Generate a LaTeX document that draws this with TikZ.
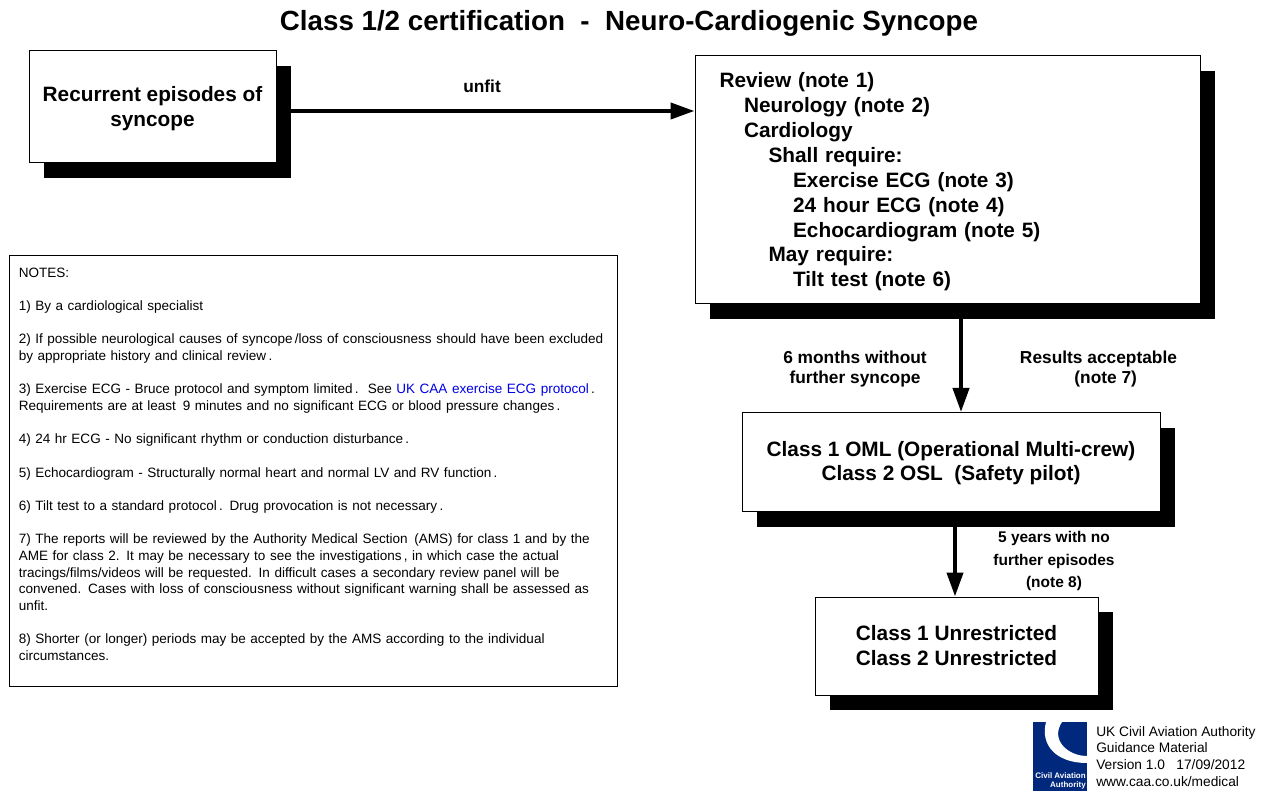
\documentclass[tikz,border=0pt]{standalone}
\usepackage{fontspec}
\setmainfont{Liberation Sans}
\usetikzlibrary{arrows.meta,shadows}
\definecolor{cablue}{RGB}{0,40,125}
\definecolor{linkblue}{RGB}{0,0,230}
\tikzset{flowbox/.style={draw,fill=white,line width=.75pt,inner sep=0pt,font=\fontsize{15.6}{18.7}\bfseries\selectfont,align=center,
drop shadow={shadow xshift=11.25pt,shadow yshift=-11.25pt,opacity=1,fill=black}},
flowarrow/.style={line width=3pt,-{Triangle[length=18pt,width=12pt]}},
flowlabel/.style={font=\fontsize{13}{15.2}\bfseries\selectfont,align=center,inner sep=0pt}}
\begin{document}
\begin{tikzpicture}[x=.75pt,y=-.75pt]
\useasboundingbox (0,0) rectangle (1267,791);
\node[font=\fontsize{20.8}{24}\bfseries\selectfont,inner sep=0pt] (title) at (629,23) {Class 1/2 certification\ \ -\ \ Neuro-Cardiogenic Syncope};
% flow boxes
\node[flowbox,minimum width=185.25pt,minimum height=84pt] (recurrent) at (152.5,107) {\rule{0pt}{14pt}Recurrent episodes of\\syncope};
\node[flowbox,minimum width=378.75pt,minimum height=186pt,align=left,text width=342pt] (review) at (947.5,180) {\rule{0pt}{14pt}Review (note 1)\\
\hspace*{18.4pt}Neurology (note 2)\\
\hspace*{18.4pt}Cardiology\\
\hspace*{36.8pt}Shall require:\\
\hspace*{55.2pt}Exercise ECG (note 3)\\
\hspace*{55.2pt}24 hour ECG (note 4)\\
\hspace*{55.2pt}Echocardiogram (note 5)\\
\hspace*{36.8pt}May require:\\
\hspace*{55.2pt}Tilt test (note 6)};
\node[flowbox,minimum width=313.5pt,minimum height=74.25pt] (oml) at (951,462) {\rule{0pt}{13pt}Class 1 OML (Operational Multi-crew)\\Class 2 OSL\ \ (Safety pilot)};
\node[flowbox,minimum width=212.25pt,minimum height=73.5pt] (unrestricted) at (956.5,646) {Class 1 Unrestricted\\Class 2 Unrestricted};
% notes
\node[draw,fill=white,line width=.75pt,anchor=north west,minimum width=456pt,minimum height=323.25pt,inner xsep=6.75pt,inner ysep=3pt,text width=442pt,align=left,font=\fontsize{10.15}{12.5}\selectfont] (notes) at (9,255) {NOTES:\\[12.5pt]
1) By a cardiological specialist\\[12.5pt]
2) If possible neurological causes of syncope\,/loss of consciousness should have been excluded\\
by appropriate history and clinical review\,.\\[12.5pt]
3) Exercise ECG - Bruce protocol and symptom limited\,.\ \ See \textcolor{linkblue}{UK CAA exercise ECG protocol}\,.\\
Requirements are at least\,\ 9 minutes and no significant ECG or blood pressure changes\,.\\[12.5pt]
4) 24 hr ECG - No significant rhythm or conduction disturbance\,.\\[12.5pt]
5) Echocardiogram - Structurally normal heart and normal LV and RV function\,.\\[12.5pt]
6) Tilt test to a standard protocol\,. Drug provocation is not necessary\,.\\[12.5pt]
7) The reports will be reviewed by the Authority Medical Section\,\ (AMS) for class 1 and by the\\
AME for class 2. It may be necessary to see the investigations\,, in which case the actual\\
tracings/films/videos will be requested. In difficult cases a secondary review panel will be\\
convened. Cases with loss of consciousness without significant warning shall be assessed as\\
unfit.\\[12.5pt]
8) Shorter (or longer) periods may be accepted by the AMS according to the individual\\
circumstances.\\[-2pt]~};
% connectors
\coordinate (unfitend) at (review.west |- 0,111);
\draw[flowarrow] (recurrent.east |- unfitend) -- (unfitend) node[midway,above=12.5pt,xshift=-2.6pt,flowlabel] (unfit) {unfit};
\coordinate (revstart) at (961,0);
\draw[flowarrow] (review.south -| revstart) -- (oml.north -| revstart);
\coordinate (omlstart) at (955,0);
\draw[flowarrow] (oml.south -| omlstart) -- (unrestricted.north -| omlstart);
\node[flowlabel] (months) at (855,369) {6 months without\\further syncope};
\node[flowlabel] (results) at (1098.5,369) {Results acceptable\\\ \ \ (note 7)};
\node[flowlabel,font=\fontsize{11.6}{16.9}\bfseries\selectfont] (years) at (1054,561) {5 years with no\\further episodes\\(note 8)};
% logo
\fill[cablue] (1033,722) rectangle (1087,791);
\fill[white] (1046,722) .. controls (1040,745) and (1056,763) .. (1087,763) -- (1087,756) .. controls (1068,756) and (1050,740) .. (1062,722) -- cycle;
\node[anchor=east,align=right,text=white,inner sep=0pt,font=\fontsize{6}{7}\bfseries\selectfont] (logotext) at (1086,781) {Civil Aviation\\Authority};
\node[anchor=north west,align=left,inner sep=0pt,font=\fontsize{10.3}{12.45}\selectfont] (footer) at (1096,726) {UK Civil Aviation Authority\\Guidance Material\\Version 1.0\ \ \ 17/09/2012\\www.caa.co.uk/medical};
\end{tikzpicture}
\end{document}
